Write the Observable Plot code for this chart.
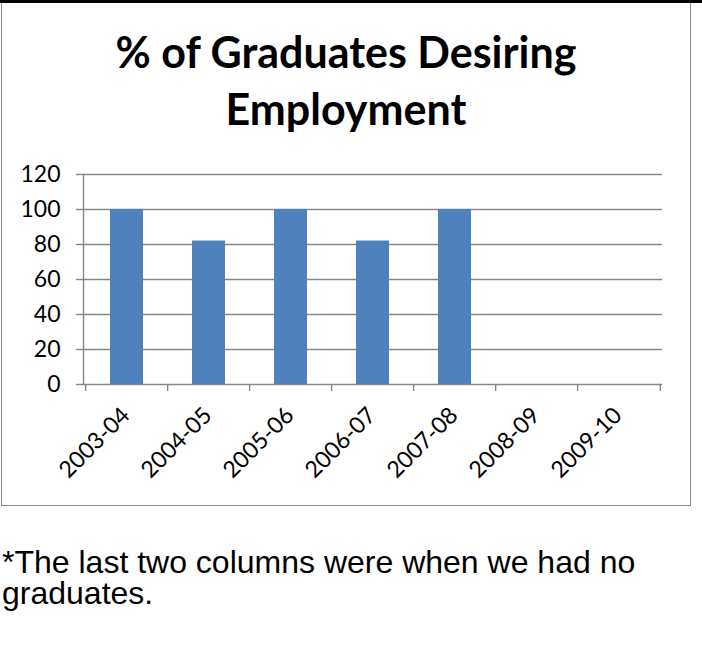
<!DOCTYPE html>
<html>
<head>
<meta charset="utf-8">
<script src="https://cdn.jsdelivr.net/npm/d3@7"></script>
<script src="https://cdn.jsdelivr.net/npm/@observablehq/plot@0.6"></script>
<style>
  html, body { margin: 0; padding: 0; background: #fff; }
  #page { position: relative; width: 702px; height: 646px; overflow: hidden; background: #fff; }
  #topbar { position: absolute; left: 0; top: 0; width: 702px; height: 3px; background: #000; }
  #frame { position: absolute; left: 1px; top: 0; width: 690px; height: 506px; border: 1.5px solid #8a8a8a; border-top: none; box-sizing: border-box; }
  #title { position: absolute; left: 2px; width: 688px; top: 23px; text-align: center;
           font-family: Lato, "Noto Sans", sans-serif; font-weight: 700; font-size: 43px; line-height: 57px; color: #000; }
  #chart { position: absolute; left: 0; top: 150px; }
  .cap { position: absolute; left: 2px; width: 700px; white-space: nowrap;
         font-family: "Liberation Sans", Arial, sans-serif; font-size: 32px; line-height: 30px; color: #000; }
</style>
</head>
<body>
<div id="page">
  <div id="frame"></div>
  <div id="topbar"></div>
  <div id="title"></div>
  <div id="chart"></div>
  <div id="cap1" class="cap" style="top:547px"></div>
  <div id="cap2" class="cap" style="top:578px"></div>
</div>
<script>
// ---- data ----
const titleLines = ["% of Graduates Desiring", "Employment"];
const categories = ["2003-04", "2004-05", "2005-06", "2006-07", "2007-08", "2008-09", "2009-10"];
const values = [100, 82, 100, 82, 100, null, null];
const yTicks = [0, 20, 40, 60, 80, 100, 120];
const captionLines = ["*The last two columns were when we had no", "graduates."];

// ---- layout ----
const W = 702, H = 350;
const mL = 83, mR = 40, mT = 24, mB = H - 234;
const step = (W - mL - mR) / categories.length;
const grid = "#868686";

document.getElementById("title").innerHTML = titleLines.join("<br>");
document.getElementById("cap1").textContent = captionLines[0];
document.getElementById("cap2").textContent = captionLines[1];

const rows = categories.map((c, i) => ({cat: c, value: values[i]}));
const bars = rows.filter(d => d.value != null);

const chart = Plot.plot({
  width: W,
  height: H,
  marginLeft: mL,
  marginRight: mR,
  marginTop: mT,
  marginBottom: mB,
  style: {fontFamily: "Lato, 'Noto Sans', sans-serif", fontSize: "23px", color: "#000", background: "transparent", overflow: "visible"},
  x: {domain: categories, paddingInner: 0.6, paddingOuter: 0.3},
  y: {domain: [0, 120]},
  marks: [
    Plot.ruleY(yTicks, {stroke: grid, strokeWidth: 1.4}),
    Plot.axisY({ticks: yTicks, tickSize: 7, tickPadding: 16, stroke: grid, strokeWidth: 1.4, strokeOpacity: 1, fill: "#000", fontSize: 23, label: null}),
    Plot.frame({anchor: "left", stroke: grid, strokeWidth: 1.4}),
    Plot.barY(bars, {x: "cat", y: "value", fill: "#4F81BD"}),
    Plot.ruleX(categories, {x: d => d, y1: 0, y2: -4, dx: -step / 2, stroke: grid, strokeWidth: 1.4}),
    Plot.ruleX(categories.slice(-1), {x: d => d, y1: 0, y2: -4, dx: step / 2, stroke: grid, strokeWidth: 1.4}),
    Plot.axisX({tickRotate: -45, tickSize: 0, tickPadding: 27, dx: -1, fill: "#000", fontSize: 23, label: null})
  ]
});
document.getElementById("chart").appendChild(chart);
</script>
</body>
</html>
